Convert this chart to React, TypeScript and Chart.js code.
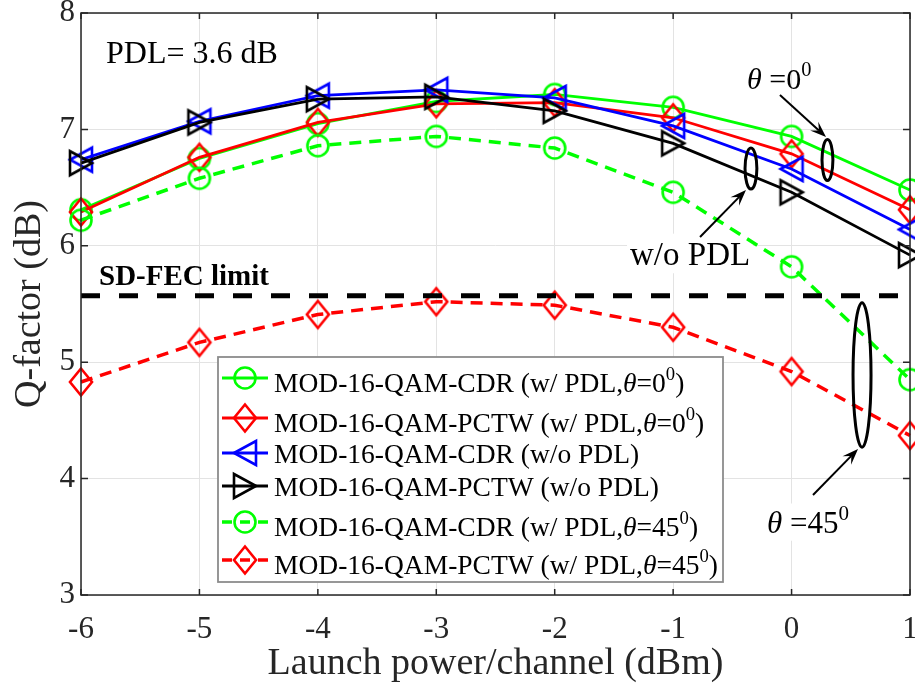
import { useEffect, useRef } from "react";
import { Chart, registerables } from "chart.js";

Chart.register(...registerables);

// ---------------- data ----------------
const launchPower = [-6, -5, -4, -3, -2, -1, 0, 1];
const xTicks = [-6, -5, -4, -3, -2, -1, 0, 1];
const yTicks = [3, 4, 5, 6, 7, 8];

const cdrPdl0 = [6.31, 6.75, 7.05, 7.24, 7.30, 7.19, 6.94, 6.48];
const pctwPdl0 = [6.29, 6.76, 7.06, 7.22, 7.23, 7.10, 6.79, 6.31];
const cdrNoPdl = [6.74, 7.07, 7.29, 7.34, 7.27, 7.03, 6.66, 6.14];
const pctwNoPdl = [6.71, 7.06, 7.26, 7.28, 7.16, 6.88, 6.46, 5.92];
const cdrPdl45 = [6.22, 6.58, 6.86, 6.94, 6.84, 6.46, 5.82, 4.85];
const pctwPdl45 = [4.83, 5.17, 5.41, 5.52, 5.49, 5.30, 4.92, 4.37];
const sdFecLimit = 5.57;

const seriesNames = [
  "MOD-16-QAM-CDR (w/ PDL,θ=0⁰)",
  "MOD-16-QAM-PCTW (w/ PDL,θ=0⁰)",
  "MOD-16-QAM-CDR (w/o PDL)",
  "MOD-16-QAM-PCTW (w/o PDL)",
  "MOD-16-QAM-CDR (w/ PDL,θ=45⁰)",
  "MOD-16-QAM-PCTW (w/ PDL,θ=45⁰)",
];
const seriesValues = [cdrPdl0, pctwPdl0, cdrNoPdl, pctwNoPdl, cdrPdl45, pctwPdl45];
const seriesColors = ["#00ff00", "#ff0000", "#0000ff", "#000000", "#00ff00", "#ff0000"];
const seriesMarkers = ["circle", "diamond", "left", "right", "circle", "diamond"];
const seriesDashed = [false, false, false, false, true, true];

const xTitle = "Launch power/channel (dBm)";
const yTitle = "Q-factor (dB)";
const fecLabel = "SD-FEC limit";

// annotation layout (data coordinates)
const annoTexts = [
  { text: "PDL= 3.6 dB", x: -5.789, y: 7.57, size: 32, bold: false, bg: false },
  { text: fecLabel, x: -5.848, y: 5.663, size: 29, bold: true, bg: false },
  { text: "θ =0⁰", x: -0.376, y: 7.347, size: 30, bold: false, bg: false },
  { text: "w/o PDL", x: -1.364, y: 5.835, size: 33, bold: false, bg: true },
  { text: "θ =45⁰", x: -0.207, y: 3.533, size: 31, bold: false, bg: true },
];
const annoEllipses = [
  { x: 0.303, y: 6.737, rx: 0.046, ry: 0.176 },
  { x: -0.343, y: 6.664, rx: 0.05, ry: 0.176 },
  { x: 0.595, y: 4.89, rx: 0.076, ry: 0.62 },
];
const annoArrows = [
  { x1: -0.098, y1: 7.296, x2: 0.291, y2: 6.935 },
  { x1: -0.773, y1: 6.076, x2: -0.385, y2: 6.479 },
  { x1: 0.181, y1: 3.859, x2: 0.561, y2: 4.254 },
];

// ---------------- helpers ----------------
const FAMILY = '"Liberation Serif", "Times New Roman", Times, serif';
const AXIS_COLOR = "#262626";

function makeMarker(shape: string, color: string) {
  const c = document.createElement("canvas");
  c.width = 34;
  c.height = 34;
  const g = c.getContext("2d")!;
  g.strokeStyle = color;
  g.lineWidth = 2.6;
  g.lineJoin = "miter";
  g.translate(17, 17);
  g.beginPath();
  if (shape === "circle") {
    g.arc(0, 0, 10.5, 0, Math.PI * 2);
  } else if (shape === "diamond") {
    g.moveTo(0, -13.5);
    g.lineTo(11, 0);
    g.lineTo(0, 13.5);
    g.lineTo(-11, 0);
    g.closePath();
  } else if (shape === "left") {
    g.moveTo(-11, 0);
    g.lineTo(11, -12);
    g.lineTo(11, 12);
    g.closePath();
  } else {
    g.moveTo(11, 0);
    g.lineTo(-11, -12);
    g.lineTo(-11, 12);
    g.closePath();
  }
  g.stroke();
  return c;
}

type Run = { t: string; kind: "n" | "i" | "s" };
function richRuns(str: string): Run[] {
  const runs: Run[] = [];
  for (const ch of str) {
    const kind: Run["kind"] = ch === "θ" ? "i" : ch === "⁰" ? "s" : "n";
    const t = ch === "⁰" ? "0" : ch;
    const last = runs[runs.length - 1];
    if (last && last.kind === kind) last.t += t;
    else runs.push({ t, kind });
  }
  return runs;
}

function drawRich(
  ctx: CanvasRenderingContext2D,
  str: string,
  x: number,
  y: number,
  size: number,
  bold: boolean,
  color: string,
  draw = true
) {
  let cx = x;
  ctx.save();
  ctx.textAlign = "left";
  ctx.textBaseline = "alphabetic";
  for (const r of richRuns(str)) {
    const fs = r.kind === "s" ? size * 0.68 : size;
    ctx.font = `${r.kind === "i" ? "italic " : ""}${bold ? "bold " : ""}${fs}px ${FAMILY}`;
    const dy = r.kind === "s" ? -size * 0.42 : 0;
    if (draw) {
      ctx.fillStyle = color;
      ctx.fillText(r.t, cx, y + dy);
    }
    cx += ctx.measureText(r.t).width;
  }
  ctx.restore();
  return cx - x;
}

function drawArrow(ctx: CanvasRenderingContext2D, x1: number, y1: number, x2: number, y2: number) {
  const a = Math.atan2(y2 - y1, x2 - x1);
  const c = Math.cos(a);
  const s = Math.sin(a);
  const L = 16;
  const W = 6;
  ctx.save();
  ctx.strokeStyle = "#000";
  ctx.fillStyle = "#000";
  ctx.lineWidth = 2;
  ctx.beginPath();
  ctx.moveTo(x1, y1);
  ctx.lineTo(x2 - c * L * 0.6, y2 - s * L * 0.6);
  ctx.stroke();
  ctx.beginPath();
  ctx.moveTo(x2, y2);
  ctx.lineTo(x2 - L * c - W * s, y2 - L * s + W * c);
  ctx.lineTo(x2 - 0.6 * L * c, y2 - 0.6 * L * s);
  ctx.lineTo(x2 - L * c + W * s, y2 - L * s - W * c);
  ctx.closePath();
  ctx.fill();
  ctx.restore();
}

// legend layout (pixels)
const legendBox = { left: 218, top: 357, right: 723, bottom: 582 };
const legendLineY = [378, 418, 453, 486, 522, 560];

const zeroPad = () => ({ left: 0, top: 0, right: 0, bottom: 0 });

export default function App() {
  const ref = useRef<HTMLCanvasElement>(null);

  useEffect(() => {
    const canvas = ref.current!;
    const markerImgs = seriesMarkers.map((m, i) => makeMarker(m, seriesColors[i]));

    const datasets: any[] = seriesValues.map((vals, i) => ({
      label: seriesNames[i],
      data: launchPower.map((x, j) => ({ x, y: vals[j] })),
      borderColor: seriesColors[i],
      backgroundColor: seriesColors[i],
      borderWidth: seriesDashed[i] ? 3.5 : 2.8,
      borderDash: seriesDashed[i] ? [12, 8] : [],
      pointStyle: markerImgs[i],
      pointRadius: 11,
      pointHoverRadius: 11,
      tension: 0,
      fill: false,
      clip: false,
      order: 10 - i,
    }));
    datasets.push({
      label: fecLabel,
      data: [
        { x: launchPower[0], y: sdFecLimit },
        { x: launchPower[launchPower.length - 1], y: sdFecLimit },
      ],
      borderColor: "#000",
      borderWidth: 5,
      borderDash: [19, 19],
      pointRadius: 0,
      fill: false,
      order: 0,
    });

    const decor = {
      id: "decor",
      beforeDatasetsDraw(chart: any) {
        const ctx = chart.ctx as CanvasRenderingContext2D;
        const xs = chart.scales.x;
        const ys = chart.scales.y;
        for (const a of annoTexts) {
          if (!a.bg) continue;
          const px = xs.getPixelForValue(a.x);
          const py = ys.getPixelForValue(a.y);
          const w = drawRich(ctx, a.text, px, py, a.size, a.bold, "#000", false);
          ctx.fillStyle = "#fff";
          ctx.fillRect(px - 3, py - a.size * 0.95, w + 6, a.size * 1.2);
        }
      },
      afterDatasetsDraw(chart: any) {
        const ctx = chart.ctx as CanvasRenderingContext2D;
        const { left, right, top, bottom } = chart.chartArea;
        const xs = chart.scales.x;
        const ys = chart.scales.y;
        ctx.save();
        ctx.strokeStyle = AXIS_COLOR;
        ctx.lineWidth = 1.5;
        ctx.strokeRect(left, top, right - left, bottom - top);
        ctx.beginPath();
        for (const v of xTicks) {
          const px = xs.getPixelForValue(v);
          ctx.moveTo(px, bottom);
          ctx.lineTo(px, bottom - 6);
          ctx.moveTo(px, top);
          ctx.lineTo(px, top + 6);
        }
        for (const v of yTicks) {
          const py = ys.getPixelForValue(v);
          ctx.moveTo(left, py);
          ctx.lineTo(left + 7, py);
          ctx.moveTo(right, py);
          ctx.lineTo(right - 7, py);
        }
        ctx.stroke();
        ctx.strokeStyle = "#000";
        ctx.lineWidth = 3;
        for (const e of annoEllipses) {
          const cx = xs.getPixelForValue(e.x);
          const cy = ys.getPixelForValue(e.y);
          const rx = Math.abs(xs.getPixelForValue(e.x + e.rx) - cx);
          const ry = Math.abs(ys.getPixelForValue(e.y + e.ry) - cy);
          ctx.beginPath();
          ctx.ellipse(cx, cy, rx, ry, 0, 0, Math.PI * 2);
          ctx.stroke();
        }
        for (const a of annoArrows) {
          drawArrow(
            ctx,
            xs.getPixelForValue(a.x1),
            ys.getPixelForValue(a.y1),
            xs.getPixelForValue(a.x2),
            ys.getPixelForValue(a.y2)
          );
        }
        for (const a of annoTexts) {
          drawRich(ctx, a.text, xs.getPixelForValue(a.x), ys.getPixelForValue(a.y), a.size, a.bold, "#000");
        }
        ctx.restore();
      },
      afterDraw(chart: any) {
        const ctx = chart.ctx as CanvasRenderingContext2D;
        ctx.save();
        const b = legendBox;
        ctx.fillStyle = "#fff";
        ctx.fillRect(b.left, b.top, b.right - b.left, b.bottom - b.top);
        ctx.strokeStyle = "#8c8c8c";
        ctx.lineWidth = 1.8;
        ctx.strokeRect(b.left, b.top, b.right - b.left, b.bottom - b.top);
        const x0 = b.left + 4;
        const x1 = b.left + 50;
        seriesNames.forEach((name, i) => {
          const ly = legendLineY[i];
          ctx.save();
          ctx.strokeStyle = seriesColors[i];
          ctx.lineWidth = seriesDashed[i] ? 3.5 : 2.8;
          ctx.setLineDash(seriesDashed[i] ? [10, 8] : []);
          ctx.beginPath();
          ctx.moveTo(x0, ly);
          ctx.lineTo(x1, ly);
          ctx.stroke();
          ctx.restore();
          const img = markerImgs[i];
          ctx.drawImage(img, (x0 + x1) / 2 - img.width / 2, ly - img.height / 2);
          const hasSup = name.includes("⁰");
          drawRich(ctx, name, x1 + 6, ly + (hasSup ? 14 : 10), 27.5, false, "#000");
        });
        ctx.restore();
      },
    };

    const chart = new Chart(canvas, {
      type: "line",
      data: { datasets },
      options: {
        animation: false,
        responsive: false,
        devicePixelRatio: 1,
        events: [],
        layout: { autoPadding: false, padding: { top: 13, right: 5, left: 0, bottom: 0 } },
        plugins: {
          legend: { display: false },
          tooltip: { enabled: false },
        },
        scales: {
          x: {
            type: "linear",
            min: -6,
            max: 1,
            afterBuildTicks: (s: any) => {
              s.ticks = xTicks.map((v) => ({ value: v }));
            },
            afterFit: (s: any) => {
              s.height = 95;
              s.paddingLeft = 0;
              s.paddingRight = 0;
              s.getPadding = zeroPad;
            },
            ticks: {
              color: AXIS_COLOR,
              font: { family: FAMILY, size: 31 },
              padding: 16,
              maxRotation: 0,
              autoSkip: false,
            },
            grid: { color: "#e3e3e3", lineWidth: 1, drawTicks: false },
            border: { display: false },
            title: {
              display: true,
              text: xTitle,
              color: AXIS_COLOR,
              font: { family: FAMILY, size: 38 },
              padding: { top: 0, bottom: 3 },
            },
          },
          y: {
            type: "linear",
            min: 3,
            max: 8,
            afterBuildTicks: (s: any) => {
              s.ticks = yTicks.map((v) => ({ value: v }));
            },
            afterFit: (s: any) => {
              s.width = 81;
              s.paddingTop = 0;
              s.paddingBottom = 0;
              s.getPadding = zeroPad;
            },
            ticks: {
              color: AXIS_COLOR,
              font: { family: FAMILY, size: 31 },
              padding: 6,
              autoSkip: false,
            },
            grid: { color: "#e3e3e3", lineWidth: 1, drawTicks: false },
            border: { display: false },
            title: {
              display: true,
              text: yTitle,
              color: AXIS_COLOR,
              font: { family: FAMILY, size: 38 },
              padding: { top: 7, bottom: 0 },
            },
          },
        },
      } as any,
      plugins: [decor],
    });
    return () => chart.destroy();
  }, []);

  return (
    <div style={{ position: "absolute", left: 0, top: 0, width: 915, height: 690, background: "#fff", overflow: "hidden" }}>
      <canvas ref={ref} width={915} height={690} style={{ display: "block" }} />
    </div>
  );
}
